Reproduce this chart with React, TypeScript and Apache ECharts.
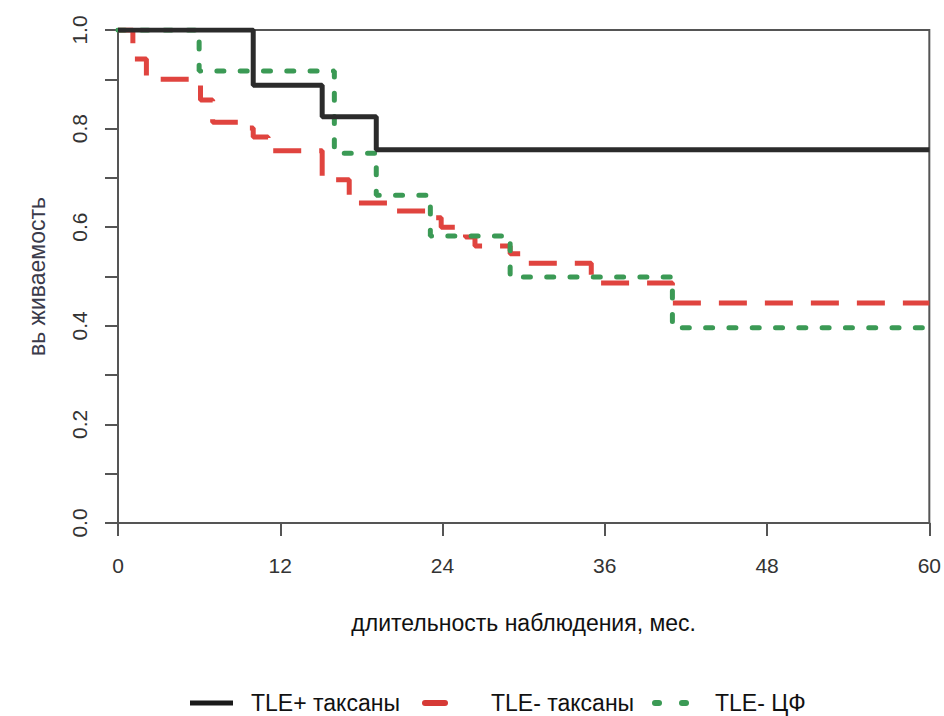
import React, { useEffect, useRef } from "react";
import * as echarts from "echarts";

// Survival curves (step functions): time in months, survival probability
const blackTimes = [0, 10.0, 15.1, 19.1, 60];
const blackSurv = [1.0, 0.888, 0.824, 0.757, 0.757];

const redTimes = [0, 1.1, 2.1, 6.1, 7.0, 9.3, 10.0, 11.1, 15.1, 17.1, 20.3, 23.1, 23.9, 25.7, 26.4, 29.0, 30.2, 35.0, 41.0, 60];
const redSurv = [1.0, 0.941, 0.9, 0.858, 0.813, 0.801, 0.783, 0.755, 0.696, 0.649, 0.633, 0.619, 0.6, 0.58, 0.562, 0.546, 0.527, 0.487, 0.446, 0.446];

const greenTimes = [0, 6.0, 16.0, 19.1, 23.1, 29.0, 41.0, 60];
const greenSurv = [1.0, 0.917, 0.75, 0.665, 0.582, 0.499, 0.396, 0.396];

const seriesNames = ["TLE+ таксаны", "TLE- таксаны", "TLE- ЦФ"];
const xTicks = [0, 12, 24, 36, 48, 60];
const xTitle = "длительность наблюдения, мес.";
const yTitle = "вь живаемость";

const toPairs = (t: number[], s: number[]) => t.map((v, i) => [v, s[i]]);

export default function App() {
  const ref = useRef<HTMLDivElement>(null);
  useEffect(() => {
    document.body.style.margin = "0";
    const chart = echarts.init(ref.current!, null, { renderer: "svg" });
    const font = "Liberation Sans, Arial, sans-serif";
    const axisColor = "#555";
    const ly = 703;
    chart.setOption({
      animation: false,
      backgroundColor: "#ffffff",
      legend: { show: false },
      grid: {
        left: 118,
        right: 14,
        top: 30,
        bottom: 193,
        show: true,
        borderColor: axisColor,
        borderWidth: 2,
        backgroundColor: "transparent",
      },
      xAxis: {
        type: "value",
        min: xTicks[0],
        max: xTicks[xTicks.length - 1],
        interval: 12,
        name: xTitle,
        nameLocation: "middle",
        nameGap: 88,
        nameTextStyle: { fontFamily: font, fontSize: 23, color: "#111" },
        axisLine: { show: true, onZero: false, lineStyle: { color: axisColor, width: 2 } },
        axisTick: { show: true, inside: false, length: 13, lineStyle: { color: axisColor, width: 2 } },
        axisLabel: { margin: 32, fontFamily: font, fontSize: 21, color: "#333" },
        splitLine: { show: false },
      },
      yAxis: {
        type: "value",
        min: 0,
        max: 1,
        interval: 0.1,
        name: yTitle,
        nameLocation: "middle",
        nameGap: 70,
        nameRotate: 90,
        nameTextStyle: { fontFamily: font, fontSize: 23, color: "#3a3a4a" },
        axisLine: { show: true, lineStyle: { color: axisColor, width: 2 } },
        axisTick: { show: true, inside: false, length: 13, lineStyle: { color: axisColor, width: 2 } },
        axisLabel: {
          rotate: 90,
          margin: 28,
          fontFamily: font,
          fontSize: 21,
          color: "#333",
          formatter: (v: number) => {
            const k = Math.round(v * 10);
            return k % 2 === 0 ? (k / 10).toFixed(1) : "";
          },
        },
        splitLine: { show: false },
      },
      series: [
        {
          name: seriesNames[0],
          type: "line",
          step: "end",
          showSymbol: false,
          data: toPairs(blackTimes, blackSurv),
          lineStyle: { color: "#2b2b2b", width: 5 },
          z: 6,
        },
        {
          name: seriesNames[1],
          type: "line",
          step: "end",
          showSymbol: false,
          data: toPairs(redTimes, redSurv),
          lineStyle: { color: "#e0443f", width: 5, type: [28, 18], cap: "butt" },
          z: 4,
        },
        {
          name: seriesNames[2],
          type: "line",
          step: "end",
          showSymbol: false,
          data: toPairs(greenTimes, greenSurv),
          lineStyle: { color: "#3b9a55", width: 5, type: [7, 16.3], cap: "round" },
          z: 5,
        },
      ],
      graphic: [
        { type: "rect", shape: { x: 190, y: ly - 2.5, width: 43, height: 5 }, style: { fill: "#1a1a1a" } },
        { type: "text", x: 251, y: ly, style: { text: seriesNames[0], fontFamily: font, fontSize: 23, fill: "#111", verticalAlign: "middle" } },
        { type: "rect", shape: { x: 422, y: ly - 3, width: 26, height: 6, r: 3 }, style: { fill: "#d63a36" } },
        { type: "text", x: 491, y: ly, style: { text: seriesNames[1], fontFamily: font, fontSize: 23, fill: "#111", verticalAlign: "middle" } },
        { type: "rect", shape: { x: 652, y: ly - 3, width: 10, height: 6, r: 3 }, style: { fill: "#3b9a55" } },
        { type: "rect", shape: { x: 679, y: ly - 3, width: 10, height: 6, r: 3 }, style: { fill: "#3b9a55" } },
        { type: "text", x: 715, y: ly, style: { text: seriesNames[2], fontFamily: font, fontSize: 23, fill: "#111", verticalAlign: "middle" } },
      ],
    });
    return () => chart.dispose();
  }, []);
  return <div ref={ref} style={{ width: 944, height: 716 }} />;
}
